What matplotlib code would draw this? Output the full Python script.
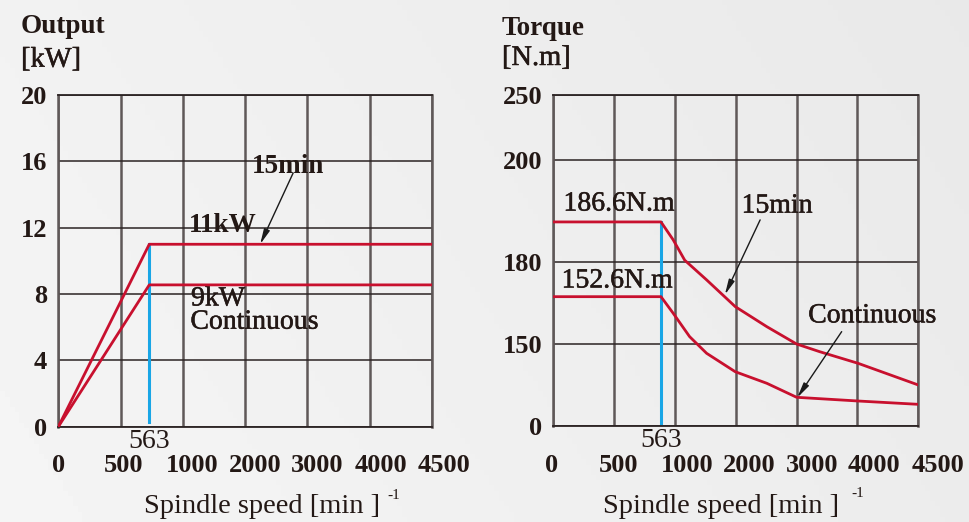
import numpy as np
import matplotlib
matplotlib.use('Agg')
import matplotlib.pyplot as plt
import matplotlib.patheffects as pe
from matplotlib.transforms import ScaledTranslation

# speed axis: the chart spaces its grid columns evenly, so x is given in column units
speed_labels = ['0', '500', '1000', '2000', '3000', '4000', '4500']

# output chart [kW]
output_ticks = [0, 4, 8, 12, 16, 20]
out_x = [0, 1.46, 6]
out_15min = [0, 11.0, 11.0]
out_cont = [0, 8.55, 8.55]
out_base = [1.46, 1.46]          # 563 min-1 line as drawn
out_base_y = [0.3, 11.0]

# torque chart [N.m], the torque axis is not linear in the drawing
torque_ticks = [0, 150, 180, 200, 250]
torque_rows = [0, 81.7, 164.3, 266.3, 330.7]   # drawn height of each grid row
tq_x = [0, 1.77, 1.97, 2.16, 2.52, 2.99, 3.51, 4.0, 4.38, 5.01, 6.0]
tq_15min = [187.8, 187.8, 184.3, 180.3, 173.4, 163.7, 156.4, 150.1, 136.4, 115.1, 75.3]
tq_cx = [0, 1.77, 1.97, 2.24, 2.52, 2.99, 3.51, 4.0, 5.01, 6.0]
tq_cont = [167.3, 167.3, 161.3, 152.8, 133.5, 99.7, 78.4, 52.7, 45.9, 39.8]
tq_base = [1.77, 1.77]
tq_base_y = [5, 187.8]

RED = '#c8102e'
BLUE = '#19a6e6'
VGRID = '#5f5858'
HGRID = '#2b2323'
INK = '#231815'
FS = 19

plt.rcParams['font.family'] = 'Liberation Serif'
plt.rcParams['text.color'] = INK

# regular text in the original is printed a little heavier
heavy = [pe.withStroke(linewidth=0.35, foreground=INK)]

fig = plt.figure(figsize=(9.69, 5.22), dpi=100)

# light grey gradient background
bg = fig.add_axes([0, 0, 1, 1], zorder=-10)
gx = np.linspace(0, 1, 200)
gy = np.linspace(0, 1, 100)
grad = 0.948 - 0.035 * gx[None, :] + 0.012 * gy[:, None]
bg.imshow(grad, cmap='gray', vmin=0, vmax=1, aspect='auto', extent=[0, 1, 0, 1])
bg.axis('off')


def style_axes(ax, xshift):
    ax.set_facecolor('none')
    ax.set_xlim(0, len(speed_labels) - 1)
    ax.set_xticks(range(len(speed_labels)))
    ax.set_xticklabels(speed_labels)
    ax.grid(True, axis='x', color=VGRID, lw=1.8)
    ax.grid(True, axis='y', color=HGRID, lw=1.1)
    for side, s in ax.spines.items():
        if side in ('left', 'right'):
            s.set_color(VGRID)
            s.set_linewidth(1.8)
        else:
            s.set_color(HGRID)
            s.set_linewidth(1.3)
    ax.tick_params(length=0, labelsize=FS, labelcolor=INK)
    ax.tick_params(axis='x', pad=20)
    ax.tick_params(axis='y', pad=8)
    for lab in ax.get_yticklabels():
        lab.set_fontweight('bold')
    for lab, dx in zip(ax.get_xticklabels(), xshift):
        lab.set_fontweight('bold')
        lab.set_transform(lab.get_transform() +
                          ScaledTranslation(dx / 100, 0, fig.dpi_scale_trans))


def note(ax, x, y, s, size=20, **kw):
    kw.setdefault('ha', 'center')
    ax.text(x, y, s, fontsize=size, va='center', path_effects=heavy, **kw)


arrow = dict(arrowstyle='-|>,head_length=0.9,head_width=0.18',
             color='#1a1a1a', lw=1.0, shrinkA=0, shrinkB=0)

# ---- left: output
ax1 = fig.add_axes([0.0602, 0.1826, 0.3857, 0.6354])
ax1.plot(out_base, out_base_y, color=BLUE, lw=2.2, zorder=3)
ax1.plot(out_x, out_15min, color=RED, lw=2.0, zorder=4)
ax1.plot(out_x, out_cont, color=RED, lw=2.0, zorder=4)
ax1.set_ylim(0, 20)
ax1.set_yticks(output_ticks)
style_axes(ax1, [0, 3, 9, 10, 10, 11, 12])

ax1.annotate('', xy=(3.24, 11.0), xytext=(3.77, 15.3), arrowprops=arrow, zorder=5)
ax1.text(3.69, 15.66, '15min', fontsize=19.5, fontweight='bold', ha='center', va='center')
ax1.text(2.64, 12.15, '11kW', fontsize=19.5, fontweight='bold', ha='center', va='center')
note(ax1, 2.13, 7.7, '9kW', ha='left')
note(ax1, 2.12, 6.3, 'Continuous', ha='left')
ax1.text(out_base[0], -0.045, '563', fontsize=20, ha='center', va='center',
         transform=ax1.get_xaxis_transform())

fig.text(0.0217, 0.9368, 'Output', fontsize=19.5, fontweight='bold', va='baseline')
fig.text(0.0217, 0.8722, '[kW]', fontsize=20.5, va='baseline', path_effects=heavy)
fig.text(0.2705, 0.017, 'Spindle speed [min ]', fontsize=20.5, ha='center', va='baseline')
fig.text(0.4065, 0.045, '-1', fontsize=11, ha='center', va='baseline')

# ---- right: torque
ax2 = fig.add_axes([0.571, 0.1839, 0.3767, 0.6335])
ax2.set_yscale('function', functions=(
    lambda v: np.interp(v, torque_ticks, torque_rows),
    lambda v: np.interp(v, torque_rows, torque_ticks)))
ax2.plot(tq_base, tq_base_y, color=BLUE, lw=2.2, zorder=3)
ax2.plot(tq_x, tq_15min, color=RED, lw=2.0, zorder=4)
ax2.plot(tq_cx, tq_cont, color=RED, lw=2.0, zorder=4)
ax2.set_ylim(0, 250)
ax2.set_yticks(torque_ticks)
ax2.yaxis.set_minor_locator(matplotlib.ticker.NullLocator())
style_axes(ax2, [-2, 4, 12, 13, 15, 16, 20])

ax2.annotate('', xy=(2.82, 168.0), xytext=(3.40, 188.2), arrowprops=arrow, zorder=5)
ax2.annotate('', xy=(4.01, 52.0), xytext=(4.74, 154.6), arrowprops=arrow, zorder=5)
note(ax2, 3.68, 190.9, '15min')
note(ax2, 5.24, 160.3, 'Continuous')
note(ax2, 1.08, 191.3, '186.6N.m')
note(ax2, 1.05, 173.0, '152.6N.m')
ax2.text(tq_base[0], -0.045, '563', fontsize=20, ha='center', va='center',
         transform=ax2.get_xaxis_transform())

fig.text(0.518, 0.933, 'Torque', fontsize=19.5, fontweight='bold', va='baseline')
fig.text(0.518, 0.8755, '[N.m]', fontsize=20.5, va='baseline', path_effects=heavy)
fig.text(0.7445, 0.017, 'Spindle speed [min ]', fontsize=20.5, ha='center', va='baseline')
fig.text(0.885, 0.047, '-1', fontsize=11, ha='center', va='baseline')

fig.savefig('out.png', dpi=100)
